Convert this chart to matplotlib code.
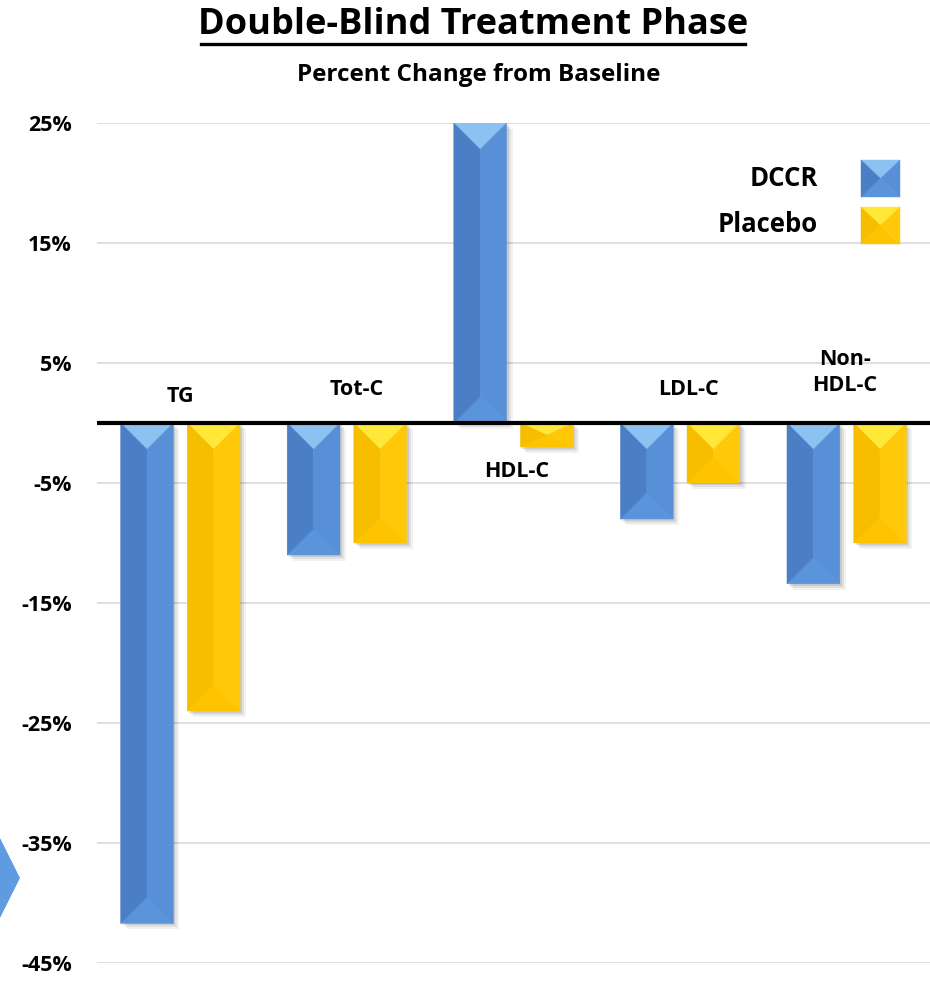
import matplotlib.pyplot as plt
from matplotlib.patches import Polygon, Rectangle
from matplotlib.ticker import FuncFormatter

plt.rcParams['font.family'] = ['Open Sans', 'DejaVu Sans']
plt.rcParams['font.weight'] = 'bold'

# Data (percent change from baseline)
categories = ['TG', 'Tot-C', 'HDL-C', 'LDL-C', 'Non-\nHDL-C']
dccr = [-41.7, -11, 25, -8, -13.4]
placebo = [-24, -10, -2, -5, -10]
series_names = ['DCCR', 'Placebo']

# Bevel shades: top, left, right, bottom
blue = dict(top='#8CC2F2', left='#4B7FC5', right='#5890D7', bottom='#5A94DA')
gold = dict(top='#FFE838', left='#F7BE00', right='#FFC90A', bottom='#FFC400')

fig = plt.figure(figsize=(9.3, 10.05), dpi=100)
ax = fig.add_axes([0.1043, 0.0418, 0.8957, 0.8358])
ax.set_xlim(-0.5, 4.5)
ax.set_ylim(-45, 25)

px_y = ax.bbox.height / 70.0   # pixels per percent
px_x = ax.bbox.width / 5.0     # pixels per category


def bevel_bar(ax, xc, w, v, shades):
    x0, x1 = xc - w / 2, xc + w / 2
    top, bot = max(0, v), min(0, v)
    half_px = w * px_x / 2
    d = min(half_px, (top - bot) * px_y / 2) / px_y
    # soft shadow
    for k, a in [(6, 0.05), (4, 0.07), (2, 0.10)]:
        ax.add_patch(Rectangle((x0 + k / px_x, bot - k / px_y), w, top - bot,
                               facecolor='black', alpha=a, lw=0, zorder=2))
    polys = [
        ([(x0, top), (x1, top), (xc, top - d)], shades['top']),
        ([(x0, bot), (x1, bot), (xc, bot + d)], shades['bottom']),
        ([(x0, top), (xc, top - d), (xc, bot + d), (x0, bot)], shades['left']),
        ([(x1, top), (xc, top - d), (xc, bot + d), (x1, bot)], shades['right']),
    ]
    for pts, c in polys:
        ax.add_patch(Polygon(pts, closed=True, facecolor=c, edgecolor=c, lw=0.3, zorder=3))


width = 0.317
offset = 0.2
for i in range(len(categories)):
    bevel_bar(ax, i - offset, width, dccr[i], blue)
    bevel_bar(ax, i + offset, width, placebo[i], gold)

# grid, zero line
ax.set_yticks(range(-45, 26, 10))
ax.yaxis.set_major_formatter(FuncFormatter(lambda v, p: f'{int(v)}%'))
ax.grid(axis='y', color='#D9D9D9', lw=1.2, zorder=0)
ax.set_axisbelow(True)
ax.axhline(0, color='black', lw=3, zorder=4)
for s in ax.spines.values():
    s.set_visible(False)
ax.set_xticks([])
ax.tick_params(axis='y', length=0, pad=18, labelsize=15.5)
for t in ax.get_yticklabels():
    t.set_fontweight('bold')

# category labels (x offset from group centre, y in percent)
label_pos = [(0.0, 2.2), (0.06, 2.8), (0.02, -4.0), (0.05, 2.8), (-0.01, 4.2)]
for i, (dx, y) in enumerate(label_pos):
    ax.text(i + dx, y, categories[i], ha='center', va='center',
            fontsize=15.5, fontweight='bold', linespacing=1.35, zorder=5)

# titles
fig.text(0.509, 0.975, 'Double-Blind Treatment Phase', ha='center', va='center',
         fontsize=26, fontweight='bold')
fig.add_artist(plt.Line2D([0.2165, 0.8015], [0.9565, 0.9565], color='black', lw=2.4))
fig.text(0.515, 0.925, 'Percent Change from Baseline', ha='center', va='center',
         fontsize=17.5, fontweight='bold')

# legend
W, H = fig.bbox.width, fig.bbox.height
for j, (name, shades) in enumerate(zip(series_names, [blue, gold])):
    yc = 178 + j * 47
    fig.text(818 / W, 1 - yc / H, name, ha='right', va='center',
             fontsize=18.5, fontweight='bold')
    x0, x1 = 861 / W, 900 / W
    y0, y1 = 1 - (yc + 19) / H, 1 - (yc - 18) / H
    xm, ym = (x0 + x1) / 2, (y0 + y1) / 2
    tris = [
        ([(x0, y1), (x1, y1), (xm, ym)], shades['top']),
        ([(x0, y0), (x1, y0), (xm, ym)], shades['bottom']),
        ([(x0, y0), (x0, y1), (xm, ym)], shades['left']),
        ([(x1, y0), (x1, y1), (xm, ym)], shades['right']),
    ]
    for pts, c in tris:
        fig.add_artist(Polygon(pts, closed=True, facecolor=c, edgecolor=c, lw=0.3,
                               transform=fig.transFigure))

# decorative arrow at left edge
fig.add_artist(Polygon([(0, 1 - 838 / H), (20 / W, 1 - 878 / H), (0, 1 - 918 / H)],
                       closed=True, facecolor='#5E9BE0', edgecolor='none',
                       transform=fig.transFigure))

fig.savefig('out.png', dpi=100)
